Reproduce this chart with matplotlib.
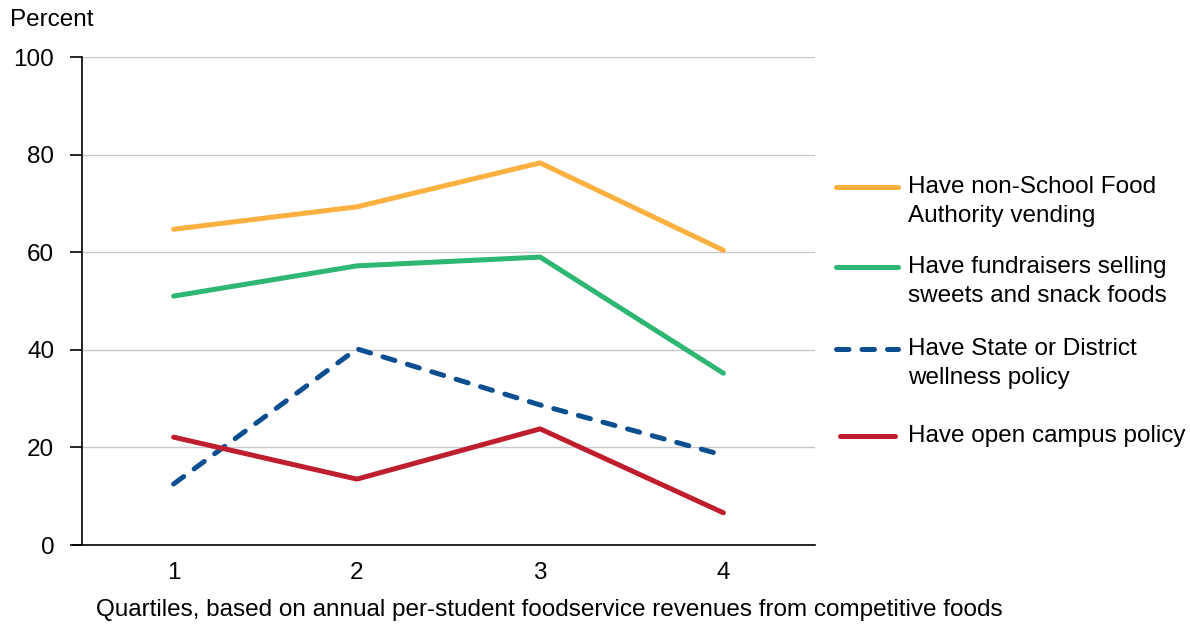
import matplotlib
matplotlib.use("Agg")
import matplotlib.pyplot as plt
from matplotlib.lines import Line2D

plt.rcParams["font.family"] = ["Liberation Sans", "DejaVu Sans"]

quartiles = [1, 2, 3, 4]
vending = [64.7, 69.3, 78.3, 60.4]
fundraisers = [51.0, 57.2, 59.0, 35.2]
wellness = [12.5, 40.2, 28.7, 18.4]
open_campus = [22.1, 13.5, 23.8, 6.6]

labels = [
    "Have non-School Food\nAuthority vending",
    "Have fundraisers selling\nsweets and snack foods",
    "Have State or District\nwellness policy",
    "Have open campus policy",
]
colors = ["#FBB040", "#2EB673", "#0B4F90", "#BE1E2D"]

W, H = 1190, 626
fs = 17.5
fig = plt.figure(figsize=(W / 100, H / 100), dpi=100)
ax = fig.add_axes([82 / W, 81 / H, 733 / W, 488 / H])

lw = 3.6
dash = (2.5, 2.6)
styles = [
    dict(solid_capstyle="round"),
    dict(solid_capstyle="round"),
    dict(dashes=dash, dash_capstyle="round"),
    dict(solid_capstyle="round"),
]
series = [vending, fundraisers, wellness, open_campus]
for vals, c, st in zip(series, colors, styles):
    ax.plot(quartiles, vals, color=c, lw=lw, **st)

ax.set_xlim(0.5, 4.5)
ax.set_ylim(0, 100)
ax.set_xticks(quartiles)
ax.set_yticks([0, 20, 40, 60, 80, 100])
ax.tick_params(axis="x", length=0, labelsize=fs, pad=12)
ax.tick_params(axis="y", length=9, width=1.2, labelsize=fs, pad=11)
ax.grid(axis="y", color="#c8c8c8", lw=1)
ax.set_axisbelow(True)
for s in ["top", "right"]:
    ax.spines[s].set_visible(False)
ax.spines["left"].set_linewidth(1.2)
ax.spines["bottom"].set_linewidth(1.2)
ax.spines["bottom"].set_bounds(0.45, 4.5)

fig.text(549 / W, 1 - 610 / H,
         "Quartiles, based on annual per-student foodservice revenues from competitive foods",
         fontsize=fs, ha="center", va="center")
fig.text(10 / W, 1 - 20 / H, "Percent", fontsize=fs, va="center", ha="left")

# legend, handle aligned with the first line of each label
leg_y = [187, 267, 349, 436]
leg_x = [(836, 898), (836, 898), (836, 898), (840, 895)]
for lab, c, st, y, (x0, x1) in zip(labels, colors, styles, leg_y, leg_x):
    fig.add_artist(Line2D([x0 / W, x1 / W], [1 - y / H, 1 - y / H],
                          transform=fig.transFigure, color=c, lw=lw, **st))
    for i, line in enumerate(lab.split("\n")):
        fig.text(908 / W, 1 - (y + i * 29) / H, line, fontsize=fs,
                 ha="left", va="center")

fig.savefig("out.png", dpi=100)
